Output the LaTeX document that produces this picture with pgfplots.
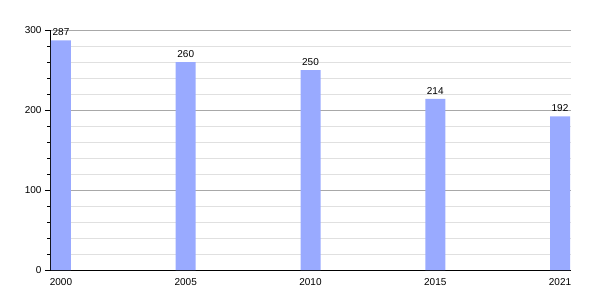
\documentclass[border=0pt]{standalone}
\usepackage{pgfplots}
\pgfplotsset{compat=1.18}
\usepackage{fontspec}
\setmainfont{Liberation Sans}
\definecolor{barblue}{RGB}{153,170,255}
\definecolor{majgrid}{RGB}{168,168,168}
\definecolor{mingrid}{RGB}{224,224,224}
\begin{document}
\begin{tikzpicture}[x=1pt,y=1pt]
\useasboundingbox (-50,-30) rectangle (550,270);
\begin{axis}[
  at={(0,0)}, anchor=south west,
  scale only axis, width=521pt, height=240pt,
  xmin=-0.088, xmax=4.088,
  ymin=0, ymax=300,
  xtick={0,1,2,3,4},
  xticklabels={2000,2005,2010,2015,2021},
  ytick={0,100,200,300},
  minor y tick num=4,
  axis x line*=bottom, axis y line*=left,
  axis line style={-, black, line width=0.8pt},
  tick align=outside,
  major tick length=5pt, minor tick length=2.5pt,
  tick style={black, line width=0.6pt},
  xtick style={draw=none},
  ymajorgrids, yminorgrids,
  major grid style={majgrid, line width=0.6pt},
  minor grid style={mingrid, line width=0.6pt},
  /pgf/number format/assume math mode=true,
  tick label style={font=\fontsize{10}{12}\selectfont},
  ybar, bar width=20pt,
  nodes near coords,
  every node near coord/.append style={font=\fontsize{10}{12}\selectfont, yshift=1pt},
  clip=false,
]
\addplot[fill=barblue, draw=none] coordinates {(0,287) (1,260) (2,250) (3,214) (4,192)};
\end{axis}
\end{tikzpicture}
\end{document}
